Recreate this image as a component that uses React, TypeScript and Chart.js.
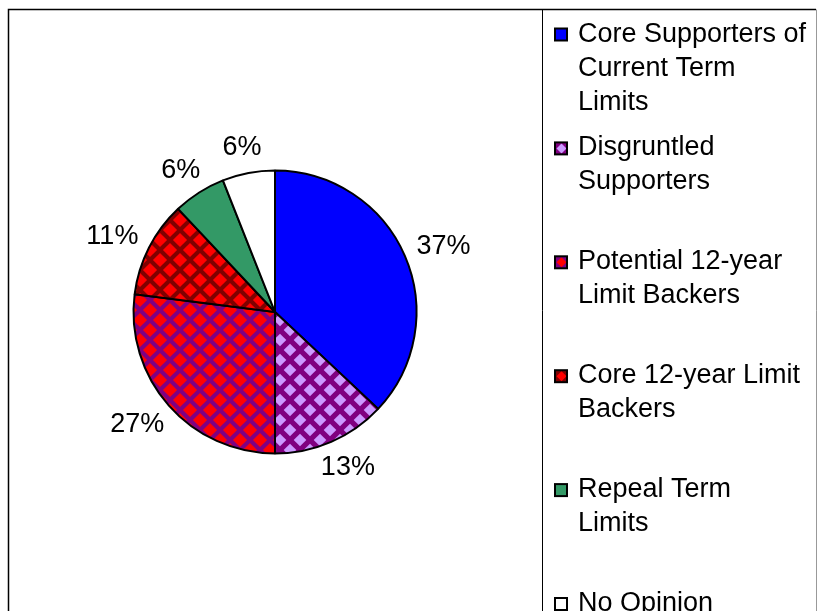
import React, { useEffect, useRef } from "react";
import { Chart, registerables } from "chart.js";

Chart.register(...registerables);

// ---- data ----
const categoryLines: string[][] = [
  ["Core Supporters of", "Current Term", "Limits"],
  ["Disgruntled", "Supporters"],
  ["Potential 12-year", "Limit Backers"],
  ["Core 12-year Limit", "Backers"],
  ["Repeal Term", "Limits"],
  ["No Opinion"],
];
const values: number[] = [37, 13, 27, 11, 6, 6];
const percentLabels: string[] = ["37%", "13%", "27%", "11%", "6%", "6%"];

// ---- styles ----
const baseColors = ["#0000FF", "#800080", "#800080", "#800000", "#339966", "#FFFFFF"];
const diamondColors: (string | null)[] = [null, "#CC99FF", "#FF0000", "#FF0000", null, null];
const diamondSizes: number[] = [0, 6.3, 7.1, 7.1, 0, 0];

const FONT = '27px "Liberation Sans", Arial, sans-serif';

function diamond(g: CanvasRenderingContext2D, x: number, y: number, r: number) {
  g.beginPath();
  g.moveTo(x, y - r);
  g.lineTo(x + r, y);
  g.lineTo(x, y + r);
  g.lineTo(x - r, y);
  g.closePath();
  g.fill();
}

function makeFill(bg: string, fg: string | null, r: number): string | CanvasPattern {
  if (!fg) return bg;
  const P = 20;
  const c = document.createElement("canvas");
  c.width = P;
  c.height = P;
  const g = c.getContext("2d")!;
  g.fillStyle = bg;
  g.fillRect(0, 0, P, P);
  g.fillStyle = fg;
  const pts = [
    [P / 2, P / 2],
    [0, 0],
    [P, 0],
    [0, P],
    [P, P],
  ];
  for (const [x, y] of pts) diamond(g, x, y, r);
  const pat = g.createPattern(c, "repeat");
  return pat || bg;
}

const decorPlugin = {
  id: "decor",
  afterDraw(chart: any) {
    const ctx: CanvasRenderingContext2D = chart.ctx;
    ctx.save();
    // outer frame
    ctx.strokeStyle = "#000";
    ctx.lineWidth = 1.5;
    ctx.beginPath();
    ctx.moveTo(8.5, 700);
    ctx.lineTo(8.5, 9.5);
    ctx.lineTo(816, 9.5);
    ctx.stroke();
    ctx.strokeStyle = "#999";
    ctx.lineWidth = 1;
    ctx.beginPath();
    ctx.moveTo(816.5, 9.5);
    ctx.lineTo(816.5, 700);
    ctx.stroke();
    // legend separator
    ctx.strokeStyle = "#000";
    ctx.lineWidth = 1;
    ctx.beginPath();
    ctx.moveTo(542.5, 9.5);
    ctx.lineTo(542.5, 700);
    ctx.stroke();

    // percentage labels
    const meta = chart.getDatasetMeta(0);
    ctx.font = FONT;
    ctx.fillStyle = "#000";
    ctx.textAlign = "center";
    ctx.textBaseline = "middle";
    meta.data.forEach((arc: any, i: number) => {
      const p = arc.getProps(["x", "y", "startAngle", "endAngle", "outerRadius"], true);
      const mid = (p.startAngle + p.endAngle) / 2;
      const dx = Math.cos(mid);
      const dy = Math.sin(mid);
      const text = percentLabels[i];
      const hw = ctx.measureText(text).width / 2;
      const hh = 12;
      const gap = 15;
      const ax = p.x + dx * (p.outerRadius + gap);
      const ay = p.y + dy * (p.outerRadius + gap);
      ctx.fillText(text, ax + hw * dx, ay + hh * dy + 1);
    });

    // legend
    ctx.textAlign = "left";
    ctx.textBaseline = "alphabetic";
    const labels = chart.data.labels as string[][];
    labels.forEach((lines, i) => {
      const base = 41.5 + i * 113.9;
      const sx = 555;
      const sy = base - 13;
      const s = 12;
      ctx.fillStyle = baseColors[i];
      ctx.fillRect(sx, sy, s, s);
      const fg = diamondColors[i];
      if (fg) {
        ctx.fillStyle = fg;
        diamond(ctx, sx + s / 2 + 0.5, sy + s / 2, 5);
      }
      ctx.strokeStyle = "#000";
      ctx.lineWidth = 2;
      ctx.strokeRect(sx, sy, s, s);
      ctx.fillStyle = "#000";
      ctx.font = FONT;
      lines.forEach((ln, k) => {
        ctx.fillText(ln, 578, base + k * 34);
      });
    });
    ctx.restore();
  },
};

export default function App() {
  const ref = useRef<HTMLCanvasElement>(null);
  useEffect(() => {
    if (!ref.current) return;
    const fills = baseColors.map((c, i) => makeFill(c, diamondColors[i], diamondSizes[i]));
    const W = 819;
    const H = 611;
    const D = 285;
    const left = 132.5;
    const top = 169.5;
    const chart = new Chart(ref.current, {
      type: "pie",
      data: {
        labels: categoryLines as any,
        datasets: [
          {
            data: values,
            backgroundColor: fills as any,
            borderColor: "#000",
            borderWidth: 2,
            hoverOffset: 0,
          },
        ],
      },
      options: {
        responsive: false,
        maintainAspectRatio: false,
        animation: false,
        events: [],
        layout: {
          padding: { left, top, right: W - left - D, bottom: H - top - D },
        },
        plugins: {
          legend: { display: false },
          tooltip: { enabled: false },
          title: { display: false },
        },
      },
      plugins: [decorPlugin],
    });
    return () => chart.destroy();
  }, []);
  return (
    <div
      style={{
        position: "fixed",
        left: 0,
        top: 0,
        width: 819,
        height: 611,
        overflow: "hidden",
        background: "#fff",
      }}
    >
      <canvas ref={ref} width={819} height={611} style={{ display: "block" }} />
    </div>
  );
}
